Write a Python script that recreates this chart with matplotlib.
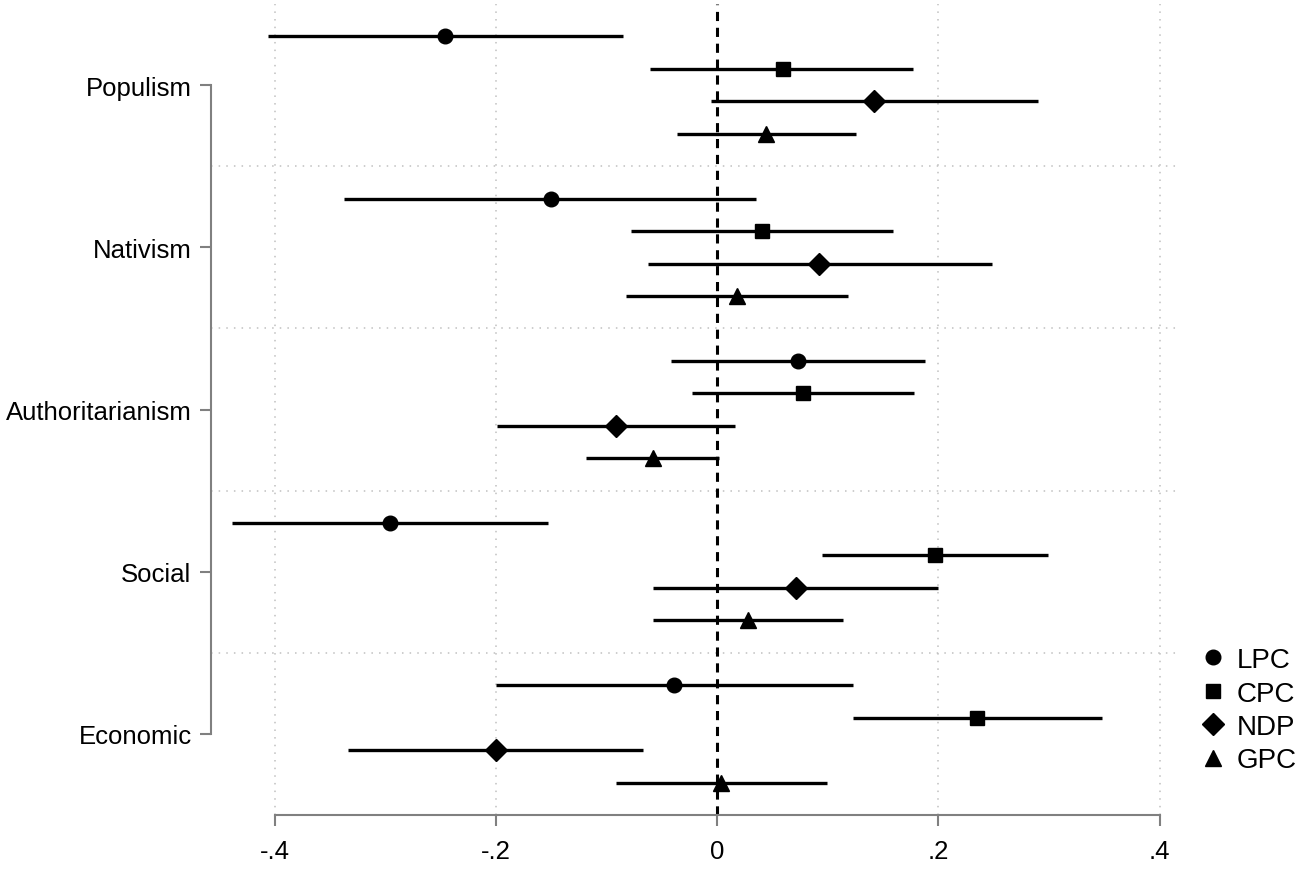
import numpy as np
import matplotlib.pyplot as plt
from matplotlib.lines import Line2D

plt.rcParams['font.family'] = ['Liberation Sans', 'DejaVu Sans']

categories = ['Populism', 'Nativism', 'Authoritarianism', 'Social', 'Economic']
parties = ['LPC', 'CPC', 'NDP', 'GPC']

# point estimates, rows = categories, cols = parties
est = np.array([
    [-0.246, 0.060, 0.142, 0.044],
    [-0.150, 0.041, 0.092, 0.018],
    [0.073, 0.078, -0.091, -0.058],
    [-0.296, 0.197, 0.071, 0.028],
    [-0.039, 0.235, -0.200, 0.004],
])
lo = np.array([
    [-0.406, -0.061, -0.005, -0.036],
    [-0.337, -0.078, -0.062, -0.082],
    [-0.042, -0.023, -0.199, -0.118],
    [-0.438, 0.095, -0.058, -0.058],
    [-0.200, 0.123, -0.334, -0.091],
])
hi = np.array([
    [-0.085, 0.177, 0.290, 0.126],
    [0.035, 0.159, 0.249, 0.118],
    [0.188, 0.178, 0.016, 0.002],
    [-0.153, 0.299, 0.200, 0.114],
    [0.123, 0.348, -0.067, 0.099],
])

markers = ['o', 's', 'D', '^']
msizes = [10.5, 10.5, 11, 12]
offsets = [-0.3, -0.1, 0.1, 0.3]

fig = plt.figure(figsize=(13, 8.7), dpi=100)
ax = fig.add_axes([211 / 1300, 1 - 816 / 870, (1180 - 211) / 1300, (816 - 5) / 870])

ypos = np.arange(len(categories))

# grid
for xt in [-0.4, -0.2, 0.2, 0.4]:
    ax.axvline(xt, color='#c0c0c0', lw=1.1, ls=(0, (1, 4)), zorder=0)
for yb in ypos[:-1] + 0.5:
    ax.axhline(yb, color='#c0c0c0', lw=1.1, ls=(0, (1, 4)), zorder=0)
ax.axvline(0, color='black', lw=2.2, ls=(0, (3, 2.2)), zorder=1)

for j, p in enumerate(parties):
    yy = ypos + offsets[j]
    ax.hlines(yy, lo[:, j], hi[:, j], color='black', lw=2.4, zorder=2)
    ax.plot(est[:, j], yy, ls='none', marker=markers[j], ms=msizes[j],
            color='black', zorder=3)

ax.set_xlim(-0.4574, 0.4185)
ax.set_ylim(4.5, -0.5)

ax.set_xticks([-0.4, -0.2, 0, 0.2, 0.4])
ax.set_xticklabels(['-.4', '-.2', '0', '.2', '.4'])
ax.set_yticks(ypos)
ax.set_yticklabels(categories)

for s in ['top', 'right']:
    ax.spines[s].set_visible(False)
for s in ['left', 'bottom']:
    ax.spines[s].set_color('#808080')
    ax.spines[s].set_linewidth(1.5)
ax.spines['left'].set_bounds(0, 4)
ax.spines['bottom'].set_bounds(-0.4, 0.4)

ax.tick_params(axis='both', colors='#808080', labelcolor='black', width=1.5,
               length=8, labelsize=18.5)
ax.tick_params(axis='y', pad=6)
ax.tick_params(axis='x', pad=9)

handles = [Line2D([], [], ls='none', marker=markers[j], ms=msizes[j], color='black')
           for j in range(len(parties))]
fig.legend(handles, parties, loc='upper left', bbox_to_anchor=(1199 / 1300, 1 - 648 / 870),
           frameon=False, fontsize=20, handletextpad=0.35, labelspacing=0.27,
           handlelength=1.0, borderpad=0, borderaxespad=0)

fig.savefig('out.png', dpi=100)
